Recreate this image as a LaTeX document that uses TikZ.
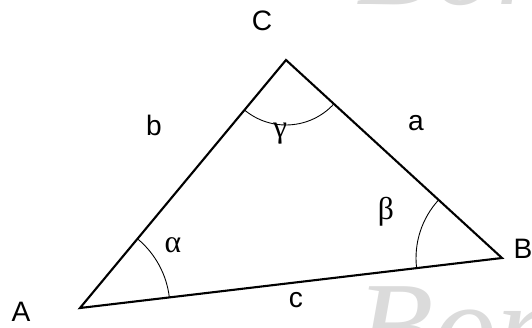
\documentclass[tikz,border=0pt]{standalone}
\usepackage{fontspec}
\setmainfont{Liberation Sans}
\newfontfamily\greekfont{Liberation Serif}
\usetikzlibrary{angles,positioning}

\begin{document}
\begin{tikzpicture}[x=0.02cm,y=-0.02cm, font=\fontsize{16}{18}\selectfont,
    side/.style={line width=1.2pt},
    anglearc/.style={draw, line width=0.5pt},
    lbl/.style={inner sep=0pt},
    greeklbl/.style={font=\greekfont\fontsize{18}{20}\selectfont, inner sep=0pt},
    watermark/.style={font=\greekfont\itshape\fontsize{72}{74}\selectfont, text=black!14, anchor=base west, inner sep=0pt}]
    \useasboundingbox (0,0) rectangle (532,328);

    % Faint watermark, cut by the frame
    \begin{scope}
      \clip (0,0) rectangle (532,328);
      \node[watermark] (wmtop) at (356,5) {Bor};
      \node[watermark] (wmbot) at (356,370) {Bor};
    \end{scope}

    % Vertices and sides
    \coordinate (A) at (80,308);
    \coordinate (B) at (502,258);
    \coordinate (C) at (286,60);
    \draw[side] (A) -- (B) -- (C) -- cycle;

    % Angle arcs
    \pic[anglearc, angle radius=1.8cm] {angle=B--A--C};
    \pic[anglearc, angle radius=1.72cm] {angle=C--B--A};
    \pic[anglearc, angle radius=1.3cm] {angle=A--C--B};

    % Vertex and side labels
    \foreach \v/\x/\y in {A/21/312,B/523/249,C/262/21,a/416/123,b/154/125,c/296/300}
      \node[lbl] (lbl\v) at (\x,\y) {\v};

    % Angle labels
    \foreach \g/\s/\x/\y in {alpha/α/173/245,beta/β/386/212,gamma/γ/280/134}
      \node[greeklbl] (lbl\g) at (\x,\y) {\s};
  \end{tikzpicture}
\end{document}
